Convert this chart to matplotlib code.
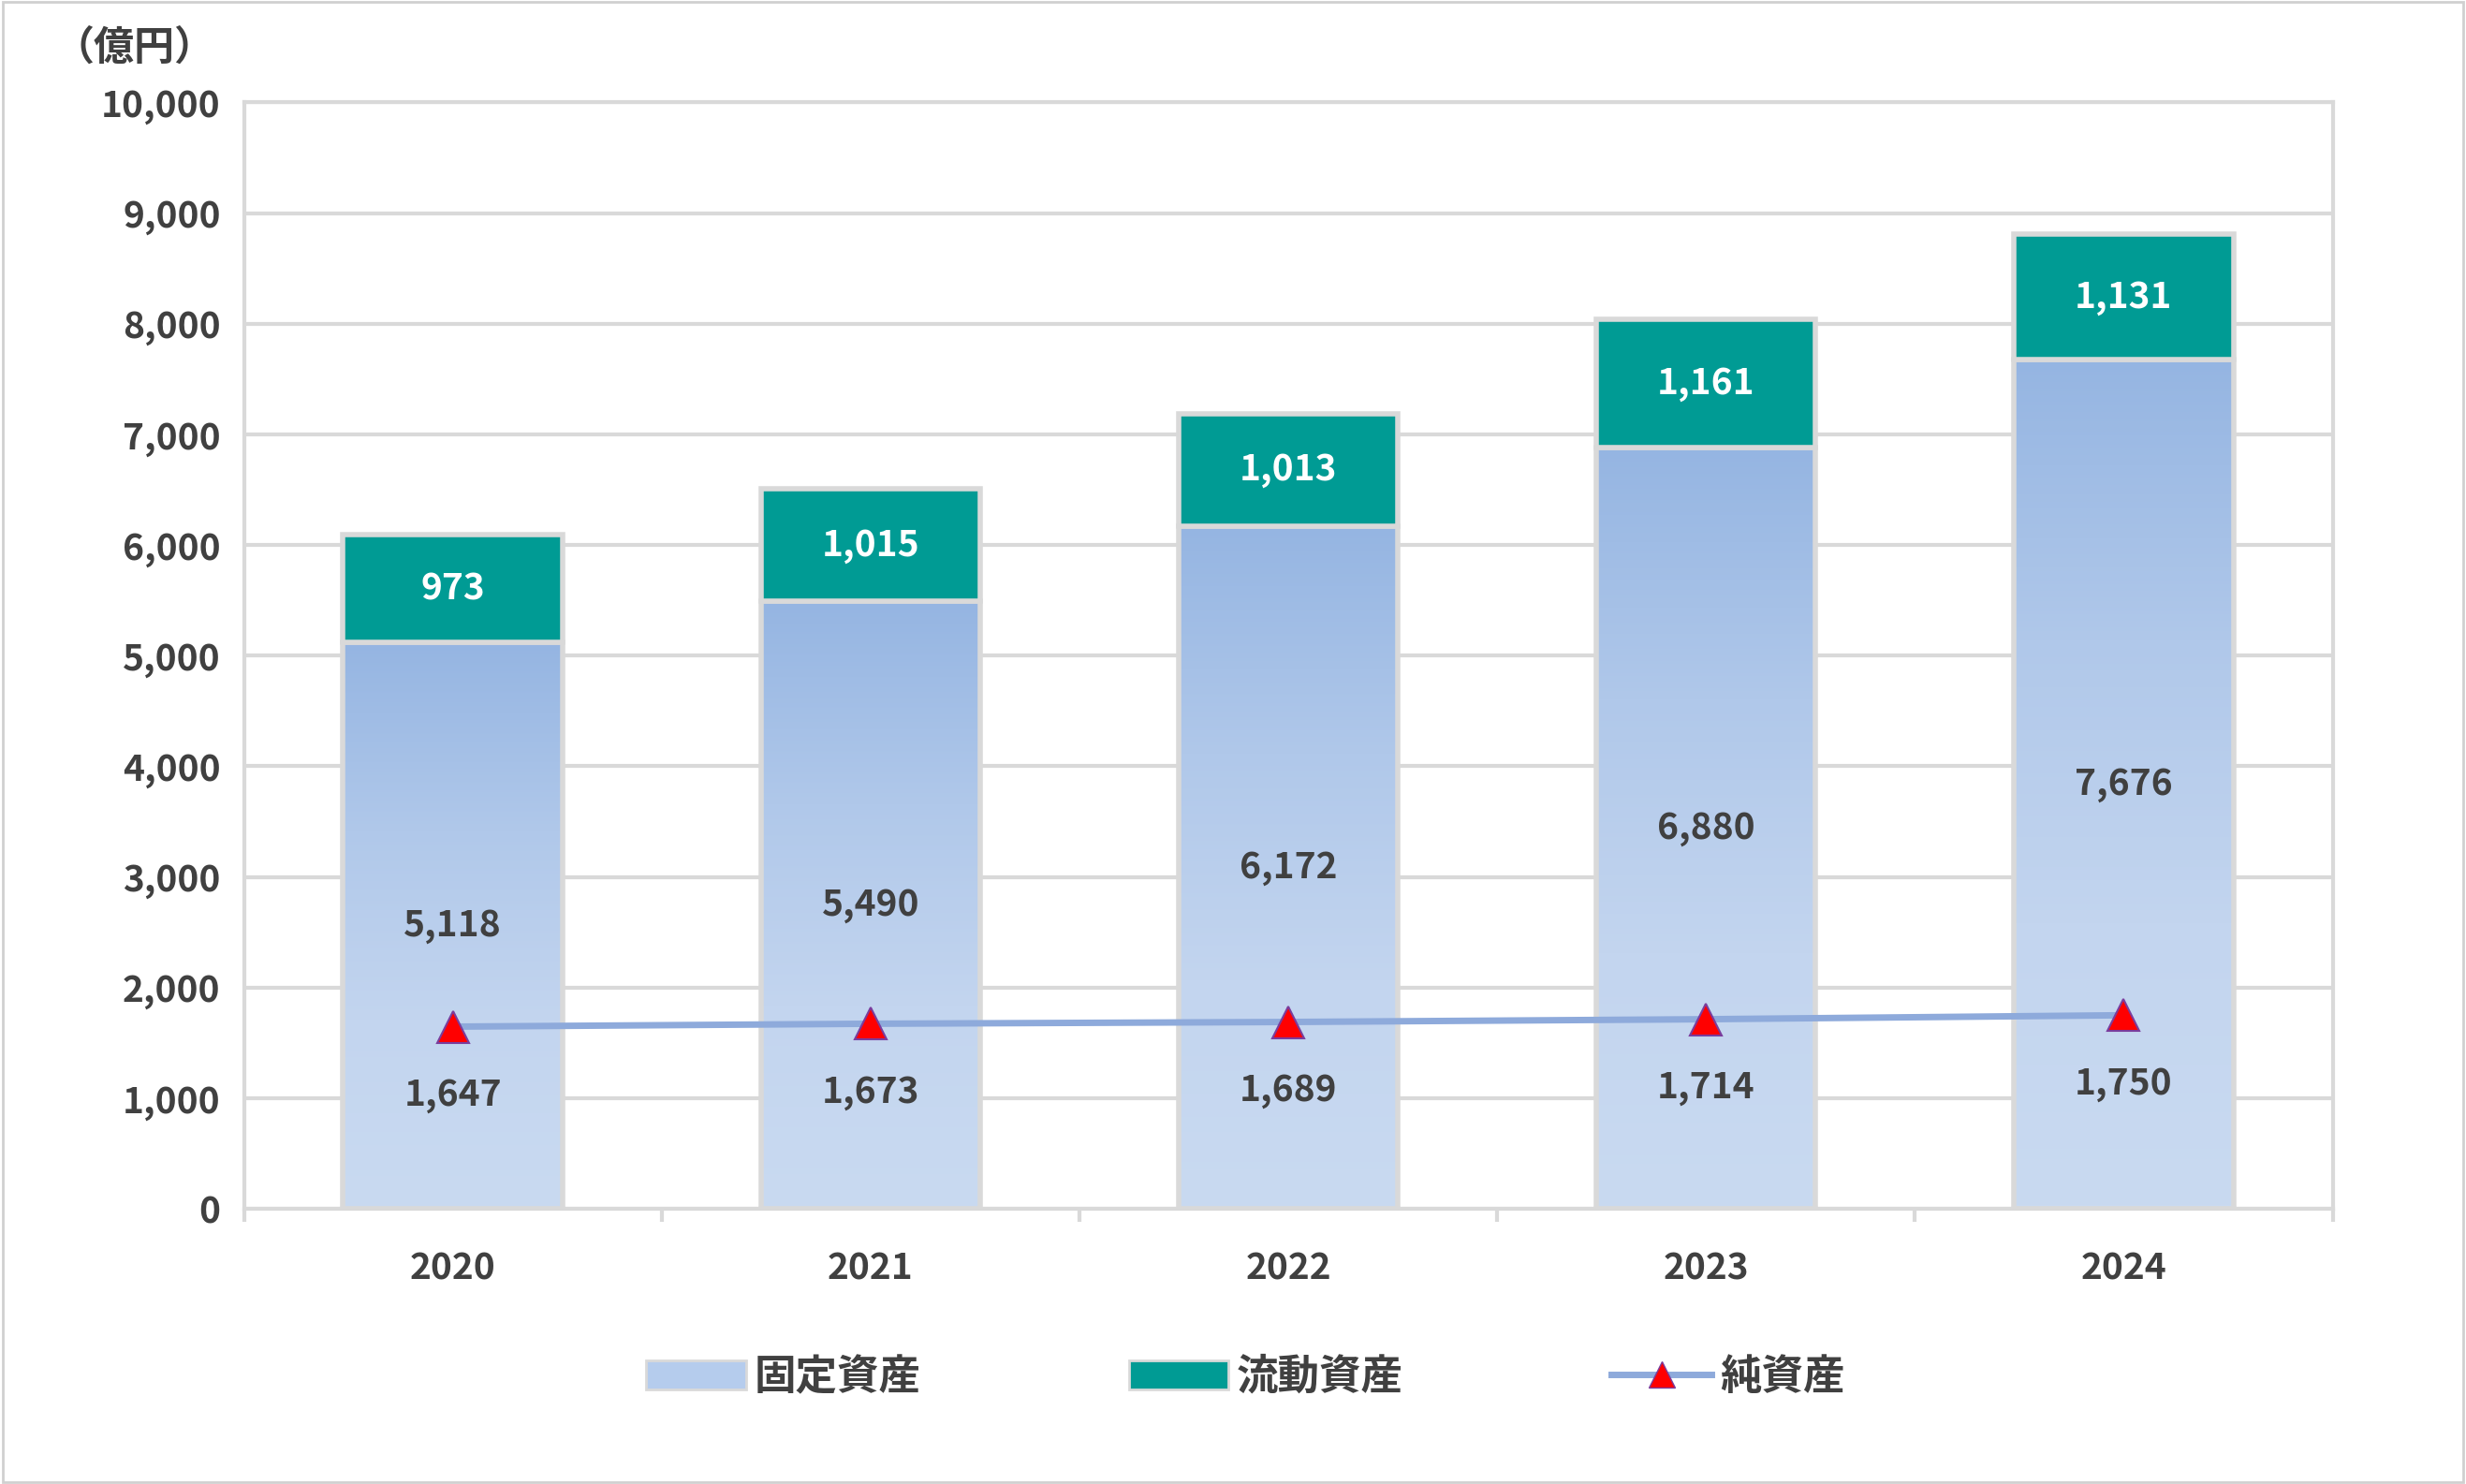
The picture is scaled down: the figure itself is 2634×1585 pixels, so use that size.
import matplotlib
matplotlib.use("Agg")
import matplotlib.pyplot as plt
import numpy as np
from matplotlib.patches import Patch
from matplotlib.lines import Line2D
from matplotlib.colors import LinearSegmentedColormap

years = ["2020", "2021", "2022", "2023", "2024"]
fixed_assets = [5118, 5490, 6172, 6880, 7676]
current_assets = [973, 1015, 1013, 1161, 1131]
net_assets = [1647, 1673, 1689, 1714, 1750]

plt.rcParams["font.family"] = "Noto Sans CJK JP"
plt.rcParams["font.weight"] = "bold"
txt = "#404040"

fig = plt.figure(figsize=(26.34, 15.85), dpi=100)
fig.patches.append(plt.Rectangle((0.001, 0.001), 0.998, 0.998, transform=fig.transFigure,
                                 fill=False, edgecolor="#d0d0d0", linewidth=2))
ax = fig.add_axes([0.0989, 0.1854, 0.847, 0.7456])
x = np.arange(len(years))
w = 0.525
edge = "#d9d9d9"

grad = np.linspace(0, 1, 256).reshape(-1, 1)
cmap = LinearSegmentedColormap.from_list("g", ["#c9daf1", "#c3d5ef", "#b0c8ea", "#95b5e2"])
bars = ax.bar(x, fixed_assets, w, color="none", edgecolor=edge, linewidth=4, zorder=3)
for b, h in zip(bars, fixed_assets):
    bx = b.get_x()
    im = ax.imshow(grad, extent=[bx, bx + w, 0, h], origin="lower", cmap=cmap,
                   aspect="auto", zorder=2)
    im.set_clip_path(b)
ax.bar(x, current_assets, w, bottom=fixed_assets, color="#009b94", edgecolor=edge,
       linewidth=4, zorder=3)
ax.plot(x, net_assets, color="#8eaadb", linewidth=5, zorder=4)
ax.plot(x, net_assets, linestyle="none", marker="^", markersize=24, markerfacecolor="#ff0000",
        markeredgecolor="#7a3c9c", markeredgewidth=1.5, zorder=5)

fs = 28
for i in range(len(years)):
    ax.text(x[i], fixed_assets[i] / 2, f"{fixed_assets[i]:,}", ha="center", va="center",
            fontsize=fs, color=txt, zorder=6)
    ax.text(x[i], fixed_assets[i] + current_assets[i] / 2, f"{current_assets[i]:,}",
            ha="center", va="center", fontsize=fs, color="white", zorder=6)
    ax.text(x[i], net_assets[i] - 620, f"{net_assets[i]:,}", ha="center", va="center",
            fontsize=fs, color=txt, zorder=6)

ax.set_xlim(-0.5, 4.5)
ax.set_ylim(0, 10000)
ax.set_yticks(range(0, 10001, 1000))
ax.set_yticklabels([f"{v:,}" for v in range(0, 10001, 1000)], fontsize=fs, color=txt)
ax.set_xticks(x)
ax.set_xticklabels(years, fontsize=fs, color=txt)
ax.set_xticks(np.arange(-0.5, 4.6, 1), minor=True)
ax.tick_params(axis="x", which="major", length=0, pad=32)
ax.tick_params(axis="x", which="minor", length=10, color=edge, width=3)
ax.tick_params(axis="y", length=0, pad=18)
ax.grid(axis="y", color=edge, linewidth=3, zorder=0)
for s in ax.spines.values():
    s.set_color(edge)
    s.set_linewidth(3)
ax.set_axisbelow(True)
fig.text(0.022, 0.968, "（億円）", fontsize=31, color=txt, ha="left", va="center")

handles = [Patch(facecolor="#b5cced", edgecolor=edge, linewidth=2),
           Patch(facecolor="#009b94", edgecolor=edge, linewidth=2),
           Line2D([0], [0], color="#8eaadb", linewidth=5, marker="^", markersize=20,
                  markerfacecolor="#ff0000", markeredgecolor="#7a3c9c")]
fig.legend(handles, ["固定資産", "流動資産", "純資産"], loc="center", bbox_to_anchor=(0.505, 0.072),
           ncol=3, frameon=False, fontsize=32, labelcolor=txt, columnspacing=5,
           handlelength=2.4, handletextpad=0.2)
fig.savefig("out.png", dpi=100)
